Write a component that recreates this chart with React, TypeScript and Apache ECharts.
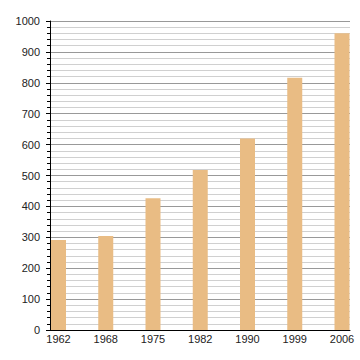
import React, { useEffect, useRef } from "react";
import * as echarts from "echarts";

const years = ["1962", "1968", "1975", "1982", "1990", "1999", "2006"];
const population = [291, 304, 426, 518, 620, 816, 960];
const yTicks = { min: 0, max: 1000, interval: 100 };

export default function App() {
  const ref = useRef<HTMLDivElement>(null);
  useEffect(() => {
    const chart = echarts.init(ref.current!, null, { renderer: "svg" });
    const font = "Liberation Sans, Arial, Helvetica, sans-serif";
    chart.setOption({
      animation: false,
      backgroundColor: "#ffffff",
      grid: [
        { left: 58.5, right: 18, top: 21, bottom: 30 },
        { left: 50, right: 10, top: 21, bottom: 30 },
      ],
      xAxis: [
        {
          type: "category",
          gridIndex: 0,
          data: years,
          boundaryGap: false,
          axisLine: { show: false },
          axisTick: { show: false },
          axisLabel: { color: "#222", fontSize: 11, fontFamily: font, margin: 3 },
          splitLine: { show: false },
        },
        {
          type: "value",
          gridIndex: 1,
          min: 0,
          max: 1,
          axisLine: { show: true, lineStyle: { color: "#000", width: 1 } },
          axisTick: { show: false },
          axisLabel: { show: false },
          splitLine: { show: false },
        },
      ],
      yAxis: [
        {
          type: "value",
          gridIndex: 0,
          min: yTicks.min,
          max: yTicks.max,
          interval: yTicks.interval,
          show: false,
          splitLine: { show: false },
        },
        {
          type: "value",
          gridIndex: 1,
          min: yTicks.min,
          max: yTicks.max,
          interval: yTicks.interval,
          axisLine: { show: true, lineStyle: { color: "#000", width: 1 } },
          axisTick: { show: true, length: 4, lineStyle: { color: "#000" } },
          minorTick: { show: true, splitNumber: 5, length: 3, lineStyle: { color: "#000" } },
          axisLabel: {
            color: "#222",
            fontSize: 11,
            fontFamily: font,
            margin: 10,
            formatter: (v: number) => String(v),
          },
          splitLine: { show: true, lineStyle: { color: "#999", width: 1 } },
          minorSplitLine: { show: true, lineStyle: { color: "#d0d0d0", width: 1 } },
        },
      ],
      series: [
        {
          type: "bar",
          xAxisIndex: 0,
          yAxisIndex: 0,
          data: population,
          barWidth: 15,
          itemStyle: { color: "#e9bc84" },
          z: 5,
        },
      ],
    });
    return () => chart.dispose();
  }, []);
  return <div ref={ref} style={{ width: 360, height: 360, position: "absolute", left: 0, top: 0 }} />;
}
